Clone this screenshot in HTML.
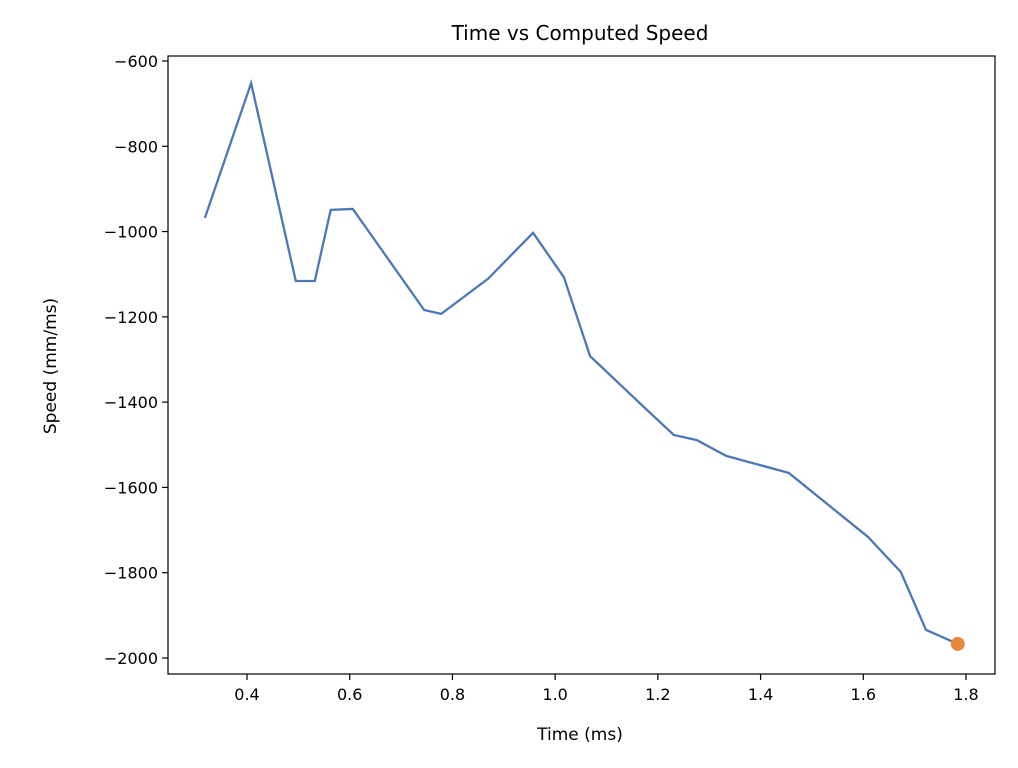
<!DOCTYPE html>
<html><head><meta charset="utf-8">
<style>
body{margin:0;background:#fff;}
svg text{font-family:"DejaVu Sans","Liberation Sans",sans-serif;fill:#000;}
</style></head>
<body>
<svg id="chart" width="1018" height="763">
<rect x="0" y="0" width="1018" height="763" fill="#fff"/>
<g id="marks"></g>
<g id="axes"></g>
<text x="580" y="40" font-size="20" text-anchor="middle">Time vs Computed Speed</text>
<text x="580" y="740" font-size="17" text-anchor="middle">Time (ms)</text>
<text transform="translate(56,366) rotate(-90)" font-size="17" text-anchor="middle">Speed (mm/ms)</text>
</svg>
<script>
const times=[0.318,0.408,0.495,0.532,0.563,0.606,0.745,0.778,0.869,0.957,1.017,1.068,1.175,1.231,1.276,1.333,1.455,1.609,1.673,1.722,1.784];
const speeds=[-968,-652,-1116,-1116,-949,-947,-1184,-1193,-1111,-1003,-1107,-1292,-1414,-1477,-1489,-1526,-1566,-1716,-1798,-1934,-1967];
const markerTime=[1.784];
const markerSpeed=[-1967];
const xTicks=[0.4,0.6,0.8,1.0,1.2,1.4,1.6,1.8];
const xTickLabels=["0.4","0.6","0.8","1.0","1.2","1.4","1.6","1.8"];
const yTicks=[-600,-800,-1000,-1200,-1400,-1600,-1800,-2000];
const yTickLabels=["\u2212600","\u2212800","\u22121000","\u22121200","\u22121400","\u22121600","\u22121800","\u22122000"];

const L=168,R=995,T=56,B=674;
function xs(v){return 247+(v-0.4)*(966-247)/1.4;}
function ys(v){return 61+(-600-v)*(658-61)/1400;}
const NS="http://www.w3.org/2000/svg";
const marks=document.getElementById('marks'),axes=document.getElementById('axes');
function mk(tag,attrs,parent){const e=document.createElementNS(NS,tag);for(const k in attrs)e.setAttribute(k,attrs[k]);parent.appendChild(e);return e;}

const line=mk('polyline',{points:times.map((t,i)=>xs(t)+','+ys(speeds[i])).join(' '),fill:'none',stroke:'#4c78b5','stroke-width':2.3},marks);


markerTime.forEach((t,i)=>{
  const c=mk('circle',{cx:xs(t),cy:ys(markerSpeed[i]),r:7,fill:'#e8883a'},marks);
  
  
});

const frame=mk('rect',{x:L,y:T,width:R-L,height:B-T,fill:'none',stroke:'#000','stroke-width':1.2},axes);


xTicks.forEach((v,i)=>{
  const x=xs(v);
  mk('line',{x1:x,x2:x,y1:B,y2:B+6,stroke:'#000','stroke-width':1.2},axes);
  const t=mk('text',{x:x,y:B+26,'font-size':16,'text-anchor':'middle'},axes);
  t.textContent=xTickLabels[i];
  
  
});
yTicks.forEach((v,i)=>{
  const y=ys(v);
  mk('line',{x1:L-6,x2:L,y1:y,y2:y,stroke:'#000','stroke-width':1.2},axes);
  const t=mk('text',{x:L-10,y:y+6,'font-size':16,'text-anchor':'end'},axes);
  t.textContent=yTickLabels[i];
  
  
});
</script>
</body></html>
